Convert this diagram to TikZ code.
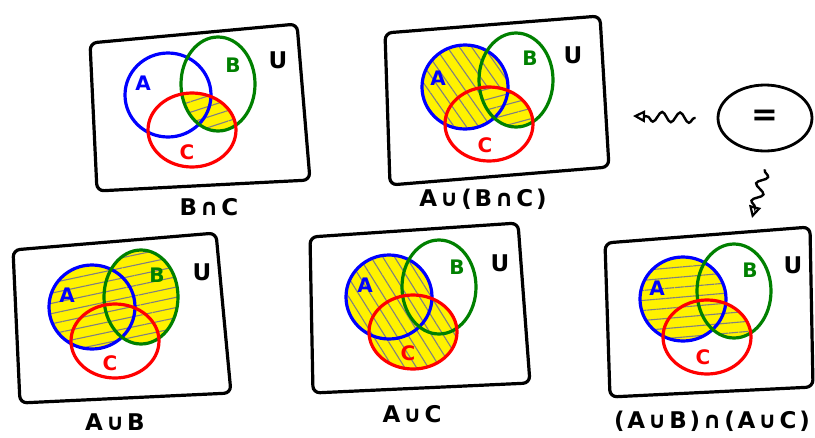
\documentclass[tikz,border=0pt]{standalone}
\usepackage{fontspec}
\setmainfont{DejaVu Sans}
\newfontfamily\capfont[LetterSpace=12]{DejaVu Sans}
\usetikzlibrary{shapes.geometric,patterns.meta,decorations.pathmorphing,arrows.meta}
\definecolor{setgreen}{RGB}{0,128,0}

\begin{document}
\begin{tikzpicture}[x=1pt, y=-1pt,
        panel/.style    = {line width=3.2pt, line join=round, rounded corners=7pt},
        seta/.style     = {draw=blue, line width=3.2pt},
        setb/.style     = {draw=setgreen, line width=3.2pt},
        setc/.style     = {draw=red, line width=3.2pt},
        radA/.style     = {x radius=43pt, y radius=42pt},
        radB/.style     = {x radius=37pt, y radius=47pt},
        radC/.style     = {x radius=44pt, y radius=37pt},
        lbl/.style      = {font=\fontsize{20}{20}\selectfont\bfseries},
        univ/.style     = {font=\fontsize{23}{23}\selectfont\bfseries},
        capt/.style     = {font=\capfont\fontsize{23}{23}\selectfont\bfseries},
        paint/.style    = {fill=yellow},
        hatch/.style    = {pattern={Lines[angle=#1, distance=10pt, line width=1.1pt]}, pattern color=gray},
        squiggle/.style = {line width=2.4pt, -{Triangle[open, length=12pt, width=12pt, line width=2.2pt]},
                           decorate, decoration={snake, segment length=18pt, amplitude=5pt, pre length=1pt, post length=9pt}}]
    \useasboundingbox (0,0) rectangle (815,437);

    % B n C
    \coordinate (a1) at (168,95);
    \coordinate (b1) at (218,84);
    \coordinate (c1) at (192,130);
    \draw[panel] (90,43) -- (297,24) -- (310,180) -- (97,191) -- cycle;
    \begin{scope}
        \clip (b1) ellipse [radB];
        \path[paint, postaction={hatch=18}] (c1) ellipse [radC];
    \end{scope}
    \draw[seta] (a1) ellipse [radA];
    \draw[setb] (b1) ellipse [radB];
    \draw[setc] (c1) ellipse [radC];
    \node[lbl, text=blue]     (la1) at (143,83)  {A};
    \node[lbl, text=setgreen] (lb1) at (233,65)  {B};
    \node[lbl, text=red]      (lc1) at (187,152) {C};
    \node[univ]               (u1)  at (278,60)  {U};
    \node[capt]               (cap1) at (209,207) {B∩C};

    % A u (B n C)
    \coordinate (a2) at (465,87);
    \coordinate (b2) at (516,80);
    \coordinate (c2) at (489,124);
    \draw[panel] (385,33) -- (600,16) -- (609,167) -- (390,185) -- cycle;
    \path[paint, postaction={hatch=-55}] (a2) ellipse [radA];
    \begin{scope}
        \clip (b2) ellipse [radB];
        \path[paint, postaction={hatch=15}] (c2) ellipse [radC];
    \end{scope}
    \draw[seta] (a2) ellipse [radA];
    \draw[setb] (b2) ellipse [radB];
    \draw[setc] (c2) ellipse [radC];
    \node[lbl, text=blue]     (la2) at (438,78)  {A};
    \node[lbl, text=setgreen] (lb2) at (530,58)  {B};
    \node[lbl, text=red]      (lc2) at (485,145) {C};
    \node[univ]               (u2)  at (573,55)  {U};
    \node[capt]               (cap2) at (483,199) {A∪(B∩C)};

    % the "=" and the two squiggles
    \node[draw, ellipse, line width=2.8pt, minimum width=94pt, minimum height=66pt,
          font=\fontsize{32}{32}\selectfont\bfseries] (eq) at (765,118) {=};
    \coordinate (lefttip) at (633,116);
    \coordinate (downtip) at (752,218);
    \draw[squiggle] ([xshift=-21pt]eq.west) -- (lefttip);
    \draw[squiggle] ([yshift=-17pt]eq.south) -- (downtip);

    % A u B
    \coordinate (a3) at (92,307);
    \coordinate (b3) at (141,297);
    \coordinate (c3) at (115,341);
    \draw[panel] (13,250) -- (216,233) -- (231,393) -- (20,403) -- cycle;
    \path[paint, postaction={hatch=12}] (a3) ellipse [radA] (b3) ellipse [radB];
    \draw[seta] (a3) ellipse [radA];
    \draw[setb] (b3) ellipse [radB];
    \draw[setc] (c3) ellipse [radC];
    \node[lbl, text=blue]     (la3) at (67,295)  {A};
    \node[lbl, text=setgreen] (lb3) at (157,275) {B};
    \node[lbl, text=red]      (lc3) at (110,363) {C};
    \node[univ]               (u3)  at (202,272) {U};
    \node[capt]               (cap3) at (115,422) {A∪B};

    % A u C
    \coordinate (a4) at (389,297);
    \coordinate (b4) at (439,287);
    \coordinate (c4) at (413,332);
    \draw[panel] (310,237) -- (518,223) -- (530,383) -- (313,393) -- cycle;
    \path[paint, postaction={hatch=-58}] (a4) ellipse [radA] (c4) ellipse [radC];
    \draw[seta] (a4) ellipse [radA];
    \draw[setb] (b4) ellipse [radB];
    \draw[setc] (c4) ellipse [radC];
    \node[lbl, text=blue]     (la4) at (365,285) {A};
    \node[lbl, text=setgreen] (lb4) at (457,267) {B};
    \node[lbl, text=red]      (lc4) at (408,353) {C};
    \node[univ]               (u4)  at (500,263) {U};
    \node[capt]               (cap4) at (412,414) {A∪C};

    % (A u B) n (A u C)
    \coordinate (a5) at (683,299);
    \coordinate (b5) at (734,291);
    \coordinate (c5) at (707,337);
    \draw[panel] (605,243) -- (810,227) -- (813,387) -- (610,397) -- cycle;
    \path[paint, postaction={hatch=5}] (a5) ellipse [radA];
    \begin{scope}
        \clip (b5) ellipse [radB];
        \path[paint, postaction={hatch=5}] (c5) ellipse [radC];
    \end{scope}
    \draw[seta] (a5) ellipse [radA];
    \draw[setb] (b5) ellipse [radB];
    \draw[setc] (c5) ellipse [radC];
    \node[lbl, text=blue]     (la5) at (657,288) {A};
    \node[lbl, text=setgreen] (lb5) at (750,270) {B};
    \node[lbl, text=red]      (lc5) at (703,357) {C};
    \node[univ]               (u5)  at (793,265) {U};
    \node[capt]               (cap5) at (712,421) {(A∪B)∩(A∪C)};
\end{tikzpicture}
\end{document}
